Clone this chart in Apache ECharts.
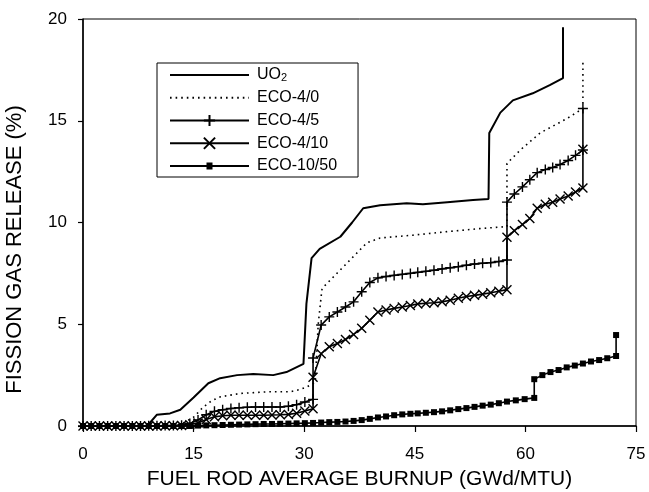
<!DOCTYPE html>
<html>
<head>
<meta charset="utf-8">
<script src="https://cdn.jsdelivr.net/npm/echarts@6/dist/echarts.min.js"></script>
<style>
  html, body { margin: 0; padding: 0; background: #fff; }
  #chart { width: 649px; height: 492px; }
</style>
</head>
<body>
<div id="chart"></div>
<script>
// Fission gas release vs. fuel rod average burnup
const seriesNames = ['UO2', 'ECO-4/0', 'ECO-4/5', 'ECO-4/10', 'ECO-10/50'];
const xTicks = [0, 15, 30, 45, 60, 75];
const yTicks = [0, 5, 10, 15, 20];

// UO2 rod
const uo2Burnup = [0, 8.7, 10, 11.8, 13.2, 15, 17, 18.6, 20.9, 23.1, 25.8, 27.6, 29.9, 30.1, 30.3, 31, 32.1, 34.9, 36.5, 38, 40.3, 43.9, 46.1, 49.4, 52.9, 55, 55.1, 56.6, 58.3, 61, 63.3, 65.1, 65.1];
const uo2Fgr    = [0, 0, 0.55, 0.62, 0.8, 1.4, 2.1, 2.35, 2.5, 2.55, 2.5, 2.65, 3.05, 3.05, 6.0, 8.25, 8.7, 9.3, 10.0, 10.7, 10.85, 10.95, 10.9, 11.0, 11.1, 11.15, 14.4, 15.4, 16.0, 16.35, 16.75, 17.1, 19.6];

// ECO-4/0 rod
const eco40Burnup = [0, 12.5, 13.6, 15, 16.3, 17.5, 18.6, 21.3, 25, 28.1, 29.5, 30.4, 31.5, 31.9, 32.4, 32.8, 35.8, 38.5, 40.3, 44.8, 49.4, 53.8, 57.5, 57.5, 59.3, 62, 65.6, 67.8, 67.8];
const eco40Fgr    = [0, 0, 0.15, 0.43, 0.93, 1.25, 1.43, 1.6, 1.68, 1.68, 1.8, 1.93, 2.15, 5.0, 6.7, 6.9, 8.0, 9.0, 9.24, 9.38, 9.55, 9.7, 9.8, 12.9, 13.56, 14.4, 15.1, 15.6, 17.9];

// ECO-4/5 and ECO-4/10 rods share the same burnup steps
const eco4Burnup = [0, 1.11, 2.23, 3.34, 4.46, 5.57, 6.69, 7.8, 8.91, 10.03, 11.14, 12.26, 13.37, 14.49, 15.6, 16.71, 17.83, 18.94, 20.06, 21.17, 22.29, 23.4, 24.51, 25.63, 26.74, 27.86, 28.97, 30.09, 31.2,
  31.2, 32.3, 33.4, 34.5, 35.6, 36.7, 37.8, 38.9, 40.0, 41.1, 42.2, 43.3, 44.4, 45.4, 46.5, 47.6, 48.7, 49.8, 50.9, 52.0, 53.1, 54.2, 55.3, 56.4, 57.5,
  57.5, 58.5, 59.6, 60.6, 61.6, 62.7, 63.7, 64.7, 65.8, 66.8, 67.8,
  67.8];
const eco45Fgr = [0, 0, 0, 0, 0, 0, 0, 0, 0.01, 0.01, 0.02, 0.02, 0.04, 0.12, 0.3, 0.55, 0.72, 0.8, 0.86, 0.9, 0.92, 0.93, 0.93, 0.93, 0.93, 0.97, 1.05, 1.18, 1.31,
  3.34, 4.96, 5.36, 5.6, 5.85, 6.1, 6.6, 7.05, 7.28, 7.35, 7.4, 7.45, 7.5, 7.55, 7.6, 7.65, 7.72, 7.78, 7.83, 7.9, 7.96, 8.0, 8.03, 8.08, 8.16,
  11.0, 11.4, 11.75, 12.1, 12.45, 12.6, 12.7, 12.85, 13.05, 13.3, 13.56,
  15.6];
const eco410Fgr = [0, 0, 0, 0, 0, 0, 0, 0, 0, 0, 0.01, 0.01, 0.02, 0.06, 0.15, 0.32, 0.45, 0.5, 0.53, 0.53, 0.53, 0.53, 0.53, 0.54, 0.55, 0.57, 0.63, 0.74, 0.85,
  2.4, 3.55, 3.9, 4.05, 4.25, 4.5, 4.8, 5.2, 5.6, 5.7, 5.78, 5.85, 5.92, 6.0, 6.03, 6.06, 6.1, 6.18, 6.28, 6.36, 6.42, 6.48, 6.55, 6.62, 6.7,
  9.28, 9.6, 9.9, 10.2, 10.7, 10.9, 11.0, 11.15, 11.3, 11.5, 11.7,
  13.6];

// ECO-10/50 rod
const eco1050Burnup = [0, 1.11, 2.23, 3.34, 4.46, 5.57, 6.69, 7.8, 8.91, 10.03, 11.14, 12.26, 13.37, 14.49, 15.6, 16.71, 17.83, 18.94, 20.06, 21.17, 22.29, 23.4, 24.51, 25.63, 26.74, 27.86, 28.97, 30.09, 31.2,
  32.3, 33.4, 34.5, 35.6, 36.7, 37.8, 38.9, 40.0, 41.1, 42.2, 43.3, 44.4, 45.4, 46.5, 47.6, 48.7, 49.8, 50.9, 52.0, 53.1, 54.2, 55.3, 56.4, 57.5,
  58.7, 59.9, 61.2, 61.2, 62.3, 63.4, 64.5, 65.6, 66.7, 67.8, 68.9, 70.0, 71.1, 72.3, 72.3];
const eco1050Fgr = [0, 0, 0, 0, 0, 0, 0, 0, 0, 0, 0, 0, 0, 0, 0.02, 0.03, 0.04, 0.05, 0.06, 0.07, 0.08, 0.09, 0.1, 0.1, 0.11, 0.12, 0.13, 0.14, 0.15,
  0.17, 0.19, 0.2, 0.22, 0.25, 0.29, 0.35, 0.42, 0.47, 0.53, 0.57, 0.6, 0.62, 0.65, 0.68, 0.72, 0.77, 0.83, 0.88, 0.94, 1.0, 1.05, 1.12, 1.2,
  1.26, 1.32, 1.38, 2.3, 2.5, 2.65, 2.75, 2.88, 2.97, 3.07, 3.17, 3.24, 3.33, 3.44, 4.47];

const zip = (xs, ys) => xs.map((x, i) => [x, ys[i]]);

const FONT = 'Liberation Sans, Arial, Helvetica, sans-serif';
const plusPath = 'path://M0,5L10,5M5,0L5,10';
const crossPath = 'path://M0,0L10,10M10,0L0,10';
// legend key for the square-marker series: line with a small square in the middle
const squareKeyPath = 'path://M0,4.1L79,4.1L79,5.9L0,5.9Z M36.5,1.5L42.5,1.5L42.5,8.5L36.5,8.5Z';
const markerStyle = { color: '#000', borderColor: '#000', borderWidth: 1.4 };
const hiddenSymbol = { opacity: 0 };

const chart = echarts.init(document.getElementById('chart'), null, { renderer: 'canvas' });

chart.setOption({
  animation: false,
  backgroundColor: '#fff',
  grid: {
    left: 83, right: 13, top: 19, bottom: 66,
    outerBoundsMode: 'none', containLabel: false,
    show: true, borderColor: '#000', borderWidth: 1, backgroundColor: 'transparent'
  },
  legend: {
    orient: 'vertical',
    left: 157, top: 63,
    padding: [4, 21, 3, 12],
    itemWidth: 79, itemHeight: 14, itemGap: 6.75,
    borderColor: '#000', borderWidth: 1,
    backgroundColor: '#fff',
    data: [
      { name: 'UO2', itemStyle: hiddenSymbol },
      { name: 'ECO-4/0', itemStyle: hiddenSymbol },
      { name: 'ECO-4/5' },
      { name: 'ECO-4/10' },
      { name: 'ECO-10/50', icon: squareKeyPath }
    ],
    formatter: name => name === 'UO2' ? 'UO{s|2}' : name,
    textStyle: {
      fontFamily: FONT, fontSize: 16, color: '#000', lineHeight: 16, padding: [0, 0, 0, 3],
      rich: { s: { fontFamily: FONT, fontSize: 11, lineHeight: 9, verticalAlign: 'bottom', color: '#000' } }
    }
  },
  xAxis: {
    type: 'value', min: 0, max: 75, interval: 15,
    name: 'FUEL ROD AVERAGE BURNUP (GWd/MTU)',
    nameLocation: 'middle', nameGap: 43,
    nameTextStyle: { fontFamily: FONT, fontSize: 21, color: '#000' },
    axisLine: { lineStyle: { color: '#000', width: 1.5 } },
    axisTick: { show: true, inside: false, length: 6, lineStyle: { color: '#000', width: 1.2 } },
    axisLabel: { fontFamily: FONT, fontSize: 17, color: '#000', margin: 20 },
    splitLine: { show: false }
  },
  yAxis: {
    type: 'value', min: 0, max: 20, interval: 5,
    name: 'FISSION GAS RELEASE (%)',
    nameLocation: 'middle', nameGap: 57, nameRotate: 90,
    nameTextStyle: { fontFamily: FONT, fontSize: 22, color: '#000', padding: [0, 54, 0, 0] },
    axisLine: { show: true, lineStyle: { color: '#000', width: 1.5 } },
    axisTick: { show: true, inside: false, length: 5, lineStyle: { color: '#000', width: 1.2 } },
    axisLabel: { fontFamily: FONT, fontSize: 17, color: '#000', margin: 16 },
    splitLine: { show: false }
  },
  series: [
    {
      name: 'UO2', type: 'line', data: zip(uo2Burnup, uo2Fgr),
      symbol: 'none', lineStyle: { color: '#000', width: 2 }, itemStyle: { color: '#000' }, z: 3
    },
    {
      name: 'ECO-4/0', type: 'line', data: zip(eco40Burnup, eco40Fgr),
      symbol: 'none', lineStyle: { color: '#000', width: 1.6, type: [1.6, 4] }, itemStyle: { color: '#000' }, z: 3
    },
    {
      name: 'ECO-4/5', type: 'line', data: zip(eco4Burnup, eco45Fgr),
      symbol: plusPath, symbolSize: 10, showAllSymbol: true,
      lineStyle: { color: '#000', width: 1.6 }, itemStyle: markerStyle, z: 4
    },
    {
      name: 'ECO-4/10', type: 'line', data: zip(eco4Burnup, eco410Fgr),
      symbol: crossPath, symbolSize: 9, showAllSymbol: true,
      lineStyle: { color: '#000', width: 1.6 }, itemStyle: markerStyle, z: 4
    },
    {
      name: 'ECO-10/50', type: 'line', data: zip(eco1050Burnup, eco1050Fgr),
      symbol: 'rect', symbolSize: 6, showAllSymbol: true,
      lineStyle: { color: '#000', width: 1.6 }, itemStyle: { color: '#000' }, z: 4
    }
  ]
});
</script>
</body>
</html>
